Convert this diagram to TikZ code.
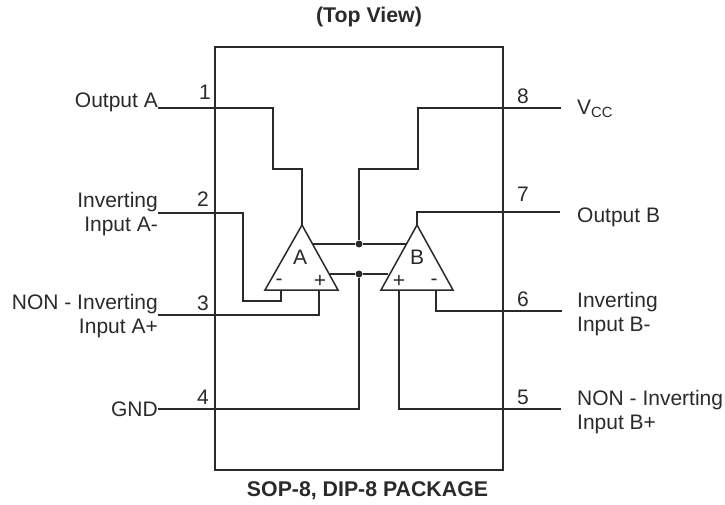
\documentclass[tikz,border=0pt]{standalone}
\usepackage{fontspec}
\setmainfont{Liberation Sans}
\definecolor{inkdark}{HTML}{2B2A29}
\tikzset{
    wire/.style={draw=inkdark, line width=1.5pt},
    pkgbox/.style={draw=inkdark, line width=1.2pt},
    pintext/.style={text=inkdark, font=\fontsize{21}{23.5}\selectfont, inner sep=0pt},
    pinlabel/.style={pintext, align=right, anchor=east},
    pinlabelr/.style={pintext, align=left, anchor=west},
    headtext/.style={pintext, font=\fontsize{21.3}{24}\selectfont\bfseries},
    joint/.style={circle, fill=inkdark, inner sep=0pt, minimum size=7pt}
}
\begin{document}
\begin{tikzpicture}[x=1pt, y=-1pt]
    \useasboundingbox (0, 0) rectangle (725, 505);

    % Draw the package outline
    \draw[pkgbox] (215, 47) rectangle (503, 470);
    \node[headtext] (topview) at (369, 17) {(Top View)};
    \node[headtext] (package) at (367.5, 491) {SOP-8, DIP-8 PACKAGE};

    % Draw the two amplifiers
    \coordinate (apexA) at (302, 225);
    \coordinate (leftA) at (265, 290);
    \coordinate (rightA) at (338, 290);
    \coordinate (apexB) at (417, 225);
    \coordinate (leftB) at (381, 290);
    \coordinate (rightB) at (453, 290);
    \draw[wire] (apexA) -- (leftA) -- (rightA) -- cycle;
    \draw[wire] (apexB) -- (leftB) -- (rightB) -- cycle;
    \node[pintext] (nameA) at (300, 257) {A};
    \node[pintext] (nameB) at (417, 257) {B};
    \node[pintext] (minusA) at (279, 282) {-};
    \node[pintext] (plusA) at (320, 281) {+};
    \node[pintext] (plusB) at (399, 281) {+};
    \node[pintext] (minusB) at (434, 282) {-};

    % Draw the pin numbers
    \node[pintext] (num1) at (205, 92) {1};
    \node[pintext] (num2) at (203, 199) {2};
    \node[pintext] (num3) at (203, 303) {3};
    \node[pintext] (num4) at (203, 397) {4};
    \node[pintext] (num5) at (523, 397) {5};
    \node[pintext] (num6) at (523, 299) {6};
    \node[pintext] (num7) at (523, 194) {7};
    \node[pintext] (num8) at (523, 96) {8};

    % Draw the pin names
    \node[pinlabel] (outA) at (158, 102) {Output A};
    \node[pinlabel] (invA) at (158, 214) {Inverting\\Input A-};
    \node[pinlabel] (nonA) at (158, 316) {NON - Inverting\\Input A+};
    \node[pinlabel] (gnd) at (158, 409) {GND};
    \node[pinlabelr] (vcc) at (577, 109) {V\textsubscript{CC}};
    \node[pinlabelr] (outB) at (577, 217) {Output B};
    \node[pinlabelr] (invB) at (577, 314) {Inverting\\Input B-};
    \node[pinlabelr] (nonB) at (577, 412) {NON - Inverting\\Input B+};

    % Free ends of the pin lines
    \coordinate (pin1) at (158, 108);
    \coordinate (pin2) at (158, 213);
    \coordinate (pin3) at (158, 315);
    \coordinate (pin4) at (158, 409);
    \coordinate (pin5) at (561, 409);
    \coordinate (pin6) at (562, 311);
    \coordinate (pin7) at (560, 212);
    \coordinate (pin8) at (561, 108);

    % Draw the joints on the supply lines
    \node[joint] (vccjoint) at (359, 244) {};
    \node[joint] (gndjoint) at (359, 274) {};

    % Draw the lines between the pins and the amplifiers
    \draw[wire] (pin1) -- (273, 108) -- (273, 169) -- (302, 169) -- (apexA);
    \draw[wire] (pin2) -- (243, 213) -- (243, 301) -- (281, 301) -- (281, 290);
    \draw[wire] (pin3) -- (319, 315) -- (319, 290);
    \draw[wire] (pin4) -| (gndjoint);
    \draw[wire] (pin5) -- (399, 409) -- (399, 290);
    \draw[wire] (pin6) -- (436, 311) -- (436, 290);
    \draw[wire] (pin7) -| (apexB);
    \draw[wire] (pin8) -- (418, 108) -- (418, 169) -| (vccjoint);

    % Draw the supply lines
    \draw[wire] (313, 244) -- (vccjoint) -- (406, 244);
    \draw[wire] (330, 274) -- (gndjoint) -- (388, 274);
\end{tikzpicture}
\end{document}
